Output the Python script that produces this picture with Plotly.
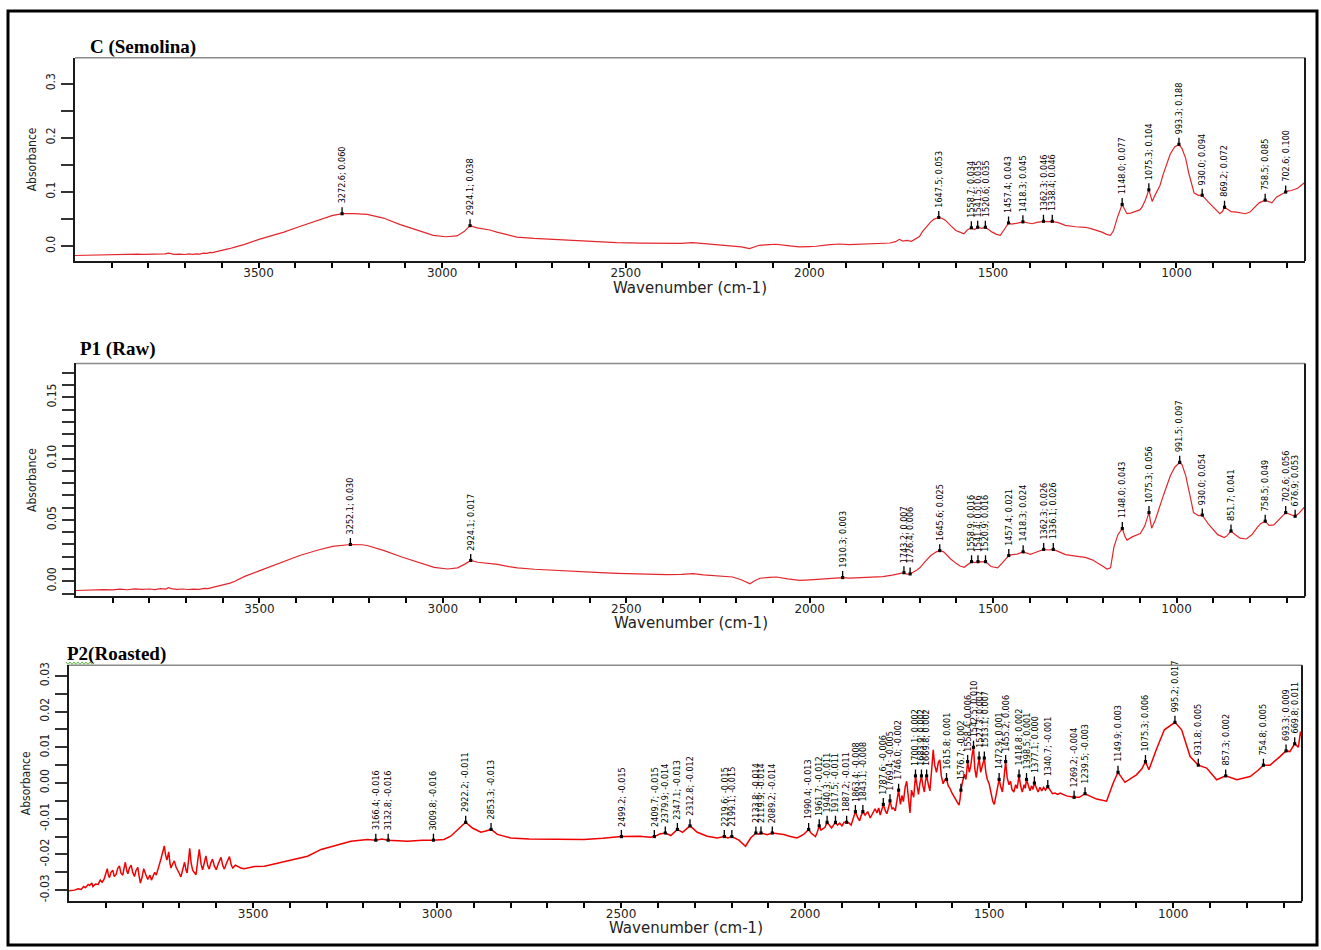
import plotly.graph_objects as go

W, H = 1321, 950

NARROW = "Liberation Sans Narrow, Arial Narrow, DejaVu Sans Condensed, sans-serif"
WIDE = "DejaVu Sans, Verdana, sans-serif"
SERIF = "Liberation Serif, Times New Roman, serif"

# ---------------- C (Semolina) ----------------
c_wn = [4000, 3975, 3950, 3925, 3900, 3880, 3860, 3845, 3830, 3815, 3800, 3785, 3770, 3755,
        3745, 3738, 3730, 3715, 3700, 3690, 3680, 3670, 3660, 3650, 3640, 3632, 3625, 3615,
        3605, 3595, 3580, 3567, 3540, 3499, 3460, 3431, 3390, 3340, 3300, 3240, 3204, 3160,
        3114, 3070, 3024, 2990, 2960, 2940, 2905, 2888, 2870, 2851, 2820, 2797, 2750, 2707,
        2660, 2617, 2570, 2525, 2460, 2390, 2350, 2318, 2290, 2254, 2210, 2185, 2163, 2150,
        2136, 2110, 2091, 2060, 2027, 2000, 1982, 1950, 1919, 1891, 1850, 1801, 1780, 1765,
        1755, 1745, 1734, 1722, 1710, 1700, 1693, 1680, 1670, 1660, 1640, 1629, 1615, 1601,
        1590, 1579, 1570, 1550, 1530, 1510, 1502, 1490, 1480, 1470, 1450, 1439, 1430, 1405,
        1393, 1380, 1350, 1320, 1303, 1275, 1260, 1249, 1235, 1225, 1203, 1190, 1180, 1172,
        1160, 1140, 1135, 1125, 1113, 1100, 1094, 1085, 1066, 1060, 1054, 1045, 1036, 1025,
        1017, 1005, 985, 975, 967, 960, 952, 940, 913, 895, 882, 875, 860, 852, 836, 813, 800,
        791, 775, 750, 740, 728, 715, 695, 687, 670, 660, 650]
c_ab = [-0.0170, -0.0165, -0.0160, -0.0158, -0.0150, -0.0155, -0.0148, -0.0152, -0.0146, -0.0150,
        -0.0147, -0.0153, -0.0149, -0.0140, -0.0128, -0.0137, -0.0150, -0.0146, -0.0152, -0.0142,
        -0.0150, -0.0140, -0.0146, -0.0128, -0.0132, -0.0112, -0.0118, -0.0098, -0.0085, -0.0068,
        -0.0045, -0.0020, 0.0030, 0.0128, 0.0200, 0.0260, 0.0360, 0.0480, 0.0565, 0.0602, 0.0587,
        0.0520, 0.0400, 0.0300, 0.0200, 0.0175, 0.0190, 0.0270, 0.0340, 0.0320, 0.0300, 0.0260,
        0.0210, 0.0170, 0.0145, 0.0130, 0.0110, 0.0097, 0.0082, 0.0066, 0.0057, 0.0048, 0.0052,
        0.0066, 0.0050, 0.0030, 0.0018, -0.0010, -0.0044, -0.0010, 0.0018, 0.0030, 0.0037,
        0.0012, -0.0013, -0.0005, 0.0000, 0.0025, 0.0042, 0.0030, 0.0038, 0.0048, 0.0060, 0.0085,
        0.0128, 0.0095, 0.0110, 0.0090, 0.0140, 0.0180, 0.0260, 0.0360, 0.0446, 0.0500, 0.0520,
        0.0477, 0.0380, 0.0290, 0.0260, 0.0230, 0.0300, 0.0310, 0.0330, 0.0300, 0.0260, 0.0220,
        0.0200, 0.0300, 0.0410, 0.0415, 0.0430, 0.0430, 0.0415, 0.0440, 0.0455, 0.0430, 0.0386,
        0.0360, 0.0355, 0.0350, 0.0330, 0.0310, 0.0260, 0.0220, 0.0200, 0.0280, 0.0550, 0.0680,
        0.0600, 0.0610, 0.0640, 0.0670, 0.0720, 0.0850, 0.0826, 0.0920, 0.1000, 0.1120, 0.1330,
        0.1550, 0.1700, 0.1830, 0.1800, 0.1620, 0.1360, 0.1180, 0.0980, 0.0940, 0.0813, 0.0700,
        0.0600, 0.0640, 0.0680, 0.0640, 0.0630, 0.0600, 0.0630, 0.0690, 0.0800, 0.0820, 0.0800,
        0.0905, 0.0960, 0.1020, 0.1028, 0.1070, 0.1130, 0.1180]
c_peak_wn = [3272.6, 2924.1, 1647.5, 1558.7, 1541.5, 1520.6, 1457.4, 1418.3, 1362.3, 1338.4,
             1148.0, 1075.3, 993.3, 930.0, 869.2, 758.5, 702.6]
c_peak_ab = [0.060, 0.038, 0.053, 0.034, 0.035, 0.035, 0.043, 0.045, 0.046, 0.046,
             0.077, 0.104, 0.188, 0.094, 0.072, 0.085, 0.100]

# ---------------- P1 (Raw) ----------------
p1_wn = [4000, 3975, 3950, 3925, 3900, 3880, 3860, 3840, 3820, 3800, 3785, 3770, 3755, 3748,
         3740, 3725, 3710, 3695, 3680, 3665, 3650, 3640, 3630, 3621, 3610, 3595, 3580, 3567,
         3540, 3499, 3460, 3431, 3390, 3340, 3300, 3220, 3204, 3160, 3114, 3070, 3024, 2987,
         2960, 2940, 2905, 2888, 2870, 2851, 2820, 2797, 2750, 2707, 2660, 2617, 2570, 2525,
         2460, 2390, 2350, 2318, 2290, 2254, 2210, 2185, 2163, 2150, 2136, 2110, 2091, 2060,
         2027, 2000, 1982, 1950, 1925, 1891, 1850, 1801, 1775, 1760, 1735, 1710, 1700, 1683,
         1670, 1655, 1635, 1629, 1615, 1601, 1590, 1579, 1570, 1550, 1530, 1506, 1488, 1475,
         1447, 1435, 1398, 1385, 1350, 1320, 1303, 1275, 1249, 1230, 1212, 1200, 1190, 1180,
         1171, 1160, 1140, 1135, 1121, 1099, 1087, 1068, 1058, 1050, 1036, 1017, 1005, 985,
         975, 967, 960, 954, 940, 913, 888, 870, 863, 840, 827, 810, 795, 780, 771, 748, 735,
         717, 690, 668, 660, 650]
p1_ab = [-0.0075, -0.0072, -0.0074, -0.0068, -0.0070, -0.0064, -0.0069, -0.0062, -0.0066, -0.0063,
         -0.0068, -0.0060, -0.0064, -0.0052, -0.0060, -0.0066, -0.0063, -0.0067, -0.0064, -0.0066,
         -0.0058, -0.0060, -0.0052, -0.0046, -0.0040, -0.0028, -0.0015, 0.0000, 0.0040, 0.0087,
         0.0130, 0.0168, 0.0210, 0.0255, 0.0285, 0.0298, 0.0290, 0.0250, 0.0200, 0.0155, 0.0114,
         0.0100, 0.0110, 0.0140, 0.0155, 0.0150, 0.0148, 0.0138, 0.0120, 0.0110, 0.0098, 0.0090,
         0.0082, 0.0076, 0.0070, 0.0064, 0.0058, 0.0054, 0.0056, 0.0062, 0.0053, 0.0043, 0.0035,
         0.0010, -0.0020, 0.0005, 0.0025, 0.0032, 0.0035, 0.0020, 0.0008, 0.0012, 0.0015, 0.0022,
         0.0026, 0.0025, 0.0032, 0.0038, 0.0050, 0.0058, 0.0058, 0.0087, 0.0110, 0.0168, 0.0210,
         0.0240, 0.0240, 0.0220, 0.0180, 0.0146, 0.0125, 0.0114, 0.0135, 0.0152, 0.0158, 0.0120,
         0.0109, 0.0150, 0.0217, 0.0222, 0.0220, 0.0235, 0.0255, 0.0240, 0.0217, 0.0205, 0.0195,
         0.0175, 0.0146, 0.0120, 0.0100, 0.0110, 0.0276, 0.0380, 0.0360, 0.0336, 0.0362, 0.0390,
         0.0450, 0.0433, 0.0500, 0.0580, 0.0700, 0.0860, 0.0930, 0.0950, 0.0860, 0.0760, 0.0650,
         0.0560, 0.0535, 0.0465, 0.0380, 0.0357, 0.0370, 0.0380, 0.0352, 0.0345, 0.0379, 0.0440,
         0.0470, 0.0455, 0.0460, 0.0520, 0.0545, 0.0550, 0.0580, 0.0610]
p1_peak_wn = [3252.1, 2924.1, 1910.3, 1743.2, 1726.4, 1645.6, 1558.9, 1541.4, 1520.9, 1457.4,
              1418.3, 1362.3, 1336.1, 1148.0, 1075.3, 991.5, 930.0, 851.7, 758.5, 702.6, 676.9]
p1_peak_ab = [0.030, 0.017, 0.003, 0.007, 0.006, 0.025, 0.016, 0.016, 0.016, 0.021,
              0.024, 0.026, 0.026, 0.043, 0.056, 0.097, 0.054, 0.041, 0.049, 0.056, 0.053]

# ---------------- P2 (Roasted) ----------------
p2_wn = [4000, 3985, 3975, 3967, 3960, 3955, 3948, 3944, 3938, 3935, 3928, 3921, 3915, 3910,
         3905, 3900, 3896, 3893, 3890, 3886, 3881, 3877, 3872, 3868, 3863, 3859, 3854, 3850,
         3847, 3843, 3840, 3836, 3831, 3827, 3822, 3818, 3813, 3810, 3806, 3801, 3797, 3792,
         3786, 3780, 3776, 3772, 3767, 3763, 3759, 3755, 3750, 3745, 3741, 3738, 3734, 3731,
         3729, 3726, 3723, 3718, 3714, 3709, 3704, 3700, 3696, 3691, 3686, 3682, 3679, 3675,
         3672, 3668, 3664, 3660, 3655, 3650, 3646, 3641, 3637, 3632, 3628, 3623, 3619, 3615,
         3610, 3605, 3600, 3594, 3587, 3582, 3578, 3571, 3564, 3559, 3555, 3548, 3542, 3533,
         3524, 3496, 3469, 3433, 3388, 3352, 3315, 3279, 3234, 3189, 3150, 3080, 3040, 2981,
         2963, 2944, 2904, 2881, 2870, 2836, 2800, 2750, 2691, 2601, 2550, 2450, 2420, 2395,
         2365, 2333, 2293, 2266, 2239, 2210, 2180, 2162, 2148, 2126, 2103, 2058, 2040, 2022,
         2004, 1984, 1978, 1972, 1967, 1957, 1952, 1946, 1934, 1928, 1923, 1912, 1906, 1900,
         1894, 1881, 1875, 1869, 1858, 1852, 1848, 1837, 1830, 1823, 1816, 1810, 1805, 1800,
         1796, 1792, 1782, 1778, 1773, 1764, 1760, 1755, 1750, 1741, 1737, 1733, 1728, 1724,
         1720, 1715, 1711, 1705, 1696, 1692, 1688, 1680, 1676, 1673, 1665, 1661, 1656, 1652,
         1648, 1643, 1638, 1634, 1630, 1625, 1620, 1611, 1607, 1600, 1594, 1588, 1582, 1579,
         1572, 1567, 1563, 1554, 1550, 1546, 1539, 1535, 1531, 1523, 1520, 1516, 1509, 1505,
         1500, 1495, 1490, 1486, 1481, 1477, 1468, 1464, 1460, 1451, 1446, 1442, 1438, 1433,
         1428, 1424, 1414, 1410, 1405, 1402, 1393, 1389, 1385, 1381, 1372, 1367, 1362, 1357,
         1352, 1347, 1335, 1328, 1321, 1314, 1307, 1290, 1255, 1208, 1181, 1163, 1131, 1100,
         1085, 1066, 1046, 1024, 977, 954, 909, 882, 827, 791, 770, 737, 710, 683, 660, 654, 650]
p2_ab = [-0.0302, -0.0300, -0.0296, -0.0298, -0.0290, -0.0293, -0.0284, -0.0287, -0.0280, -0.0290,
         -0.0283, -0.0284, -0.0272, -0.0278, -0.0270, -0.0252, -0.0240, -0.0258, -0.0265, -0.0250,
         -0.0244, -0.0262, -0.0256, -0.0240, -0.0232, -0.0252, -0.0258, -0.0236, -0.0222, -0.0246,
         -0.0254, -0.0238, -0.0230, -0.0250, -0.0262, -0.0245, -0.0236, -0.0258, -0.0280, -0.0262,
         -0.0240, -0.0255, -0.0270, -0.0258, -0.0272, -0.0262, -0.0250, -0.0258, -0.0240, -0.0230,
         -0.0212, -0.0195, -0.0176, -0.0200, -0.0216, -0.0202, -0.0193, -0.0222, -0.0238, -0.0226,
         -0.0218, -0.0236, -0.0244, -0.0254, -0.0263, -0.0240, -0.0222, -0.0244, -0.0252, -0.0215,
         -0.0183, -0.0225, -0.0244, -0.0250, -0.0257, -0.0215, -0.0186, -0.0228, -0.0243, -0.0222,
         -0.0204, -0.0232, -0.0241, -0.0225, -0.0213, -0.0233, -0.0243, -0.0225, -0.0208, -0.0232,
         -0.0241, -0.0222, -0.0206, -0.0230, -0.0238, -0.0230, -0.0234, -0.0238, -0.0240, -0.0234,
         -0.0233, -0.0225, -0.0214, -0.0205, -0.0186, -0.0175, -0.0163, -0.0158, -0.0157, -0.0163,
         -0.0160, -0.0158, -0.0149, -0.0130, -0.0126, -0.0138, -0.0135, -0.0144, -0.0154, -0.0157,
         -0.0158, -0.0158, -0.0155, -0.0149, -0.0152, -0.0143, -0.0147, -0.0138, -0.0138, -0.0149,
         -0.0154, -0.0154, -0.0160, -0.0177, -0.0154, -0.0143, -0.0145, -0.0144, -0.0150, -0.0154,
         -0.0144, -0.0140, -0.0145, -0.0150, -0.0138, -0.0132, -0.0128, -0.0124, -0.0120, -0.0126,
         -0.0118, -0.0118, -0.0112, -0.0120, -0.0110, -0.0112, -0.0118, -0.0100, -0.0095, -0.0106,
         -0.0092, -0.0090, -0.0080, -0.0098, -0.0085, -0.0072, -0.0084, -0.0070, -0.0090, -0.0074,
         -0.0078, -0.0086, -0.0068, -0.0072, -0.0070, -0.0078, -0.0040, -0.0060, -0.0035, -0.0052,
         -0.0010, 0.0005, -0.0045, -0.0084, -0.0020, -0.0040, -0.0015, -0.0032, 0.0000, -0.0008,
         -0.0025, 0.0005, -0.0005, -0.0022, 0.0040, 0.0093, 0.0050, 0.0030, 0.0058, 0.0065,
         0.0020, -0.0002, 0.0010, -0.0008, -0.0014, -0.0030, -0.0040, -0.0052, -0.0062, -0.0045,
         0.0005, 0.0025, 0.0010, 0.0030, 0.0048, 0.0080, 0.0040, 0.0015, 0.0045, 0.0030, 0.0042,
         0.0055, 0.0030, 0.0010, -0.0002, -0.0030, -0.0052, -0.0060, -0.0030, -0.0005, -0.0012,
         -0.0025, 0.0010, 0.0015, -0.0005, 0.0005, -0.0018, -0.0025, -0.0005, -0.0015, -0.0010,
         -0.0025, -0.0005, -0.0015, -0.0012, -0.0022, -0.0008, -0.0018, -0.0015, -0.0025, -0.0012,
         -0.0022, -0.0012, -0.0020, -0.0020, -0.0030, -0.0028, -0.0032, -0.0028, -0.0036, -0.0040,
         -0.0045, -0.0051, 0.0000, 0.0002, 0.0023, 0.0040, 0.0037, 0.0093, 0.0149, 0.0149, 0.0074,
         0.0042, 0.0009, 0.0009, 0.0018, 0.0035, 0.0050, 0.0074, 0.0088, 0.0100, 0.0144, 0.0130]
p2_peak_wn = [3166.4, 3132.8, 3009.8, 2922.2, 2853.3, 2499.2, 2409.7, 2379.9, 2347.1, 2312.8,
              2219.6, 2199.1, 2133.8, 2119.9, 2089.2, 1990.4, 1961.7, 1940.3, 1917.5, 1887.2,
              1863.4, 1843.1, 1787.6, 1769.4, 1746.0, 1700.1, 1683.9, 1669.8, 1615.8, 1576.7,
              1558.4, 1542.5, 1527.3, 1513.1, 1472.9, 1455.2, 1418.8, 1398.5, 1377.1, 1340.7,
              1269.2, 1239.5, 1149.9, 1075.3, 995.2, 931.8, 857.3, 754.8, 693.3, 669.8]
p2_peak_ab = [-0.016, -0.016, -0.016, -0.011, -0.013, -0.015, -0.015, -0.014, -0.013, -0.012,
              -0.015, -0.015, -0.014, -0.014, -0.014, -0.013, -0.012, -0.011, -0.011, -0.011,
              -0.008, -0.008, -0.006, -0.005, -0.002, 0.002, 0.002, 0.002, 0.001, -0.002,
              0.006, 0.010, 0.007, 0.007, 0.001, 0.006, 0.002, 0.001, 0.000, -0.001,
              -0.004, -0.003, 0.003, 0.006, 0.017, 0.005, 0.002, 0.005, 0.009, 0.011]

# tick settings
x_major = [3500, 3000, 2500, 2000, 1500, 1000]
x_minor = [v for v in range(3900, 650, -100) if v not in x_major]

panels = [
    dict(name="C (Semolina)", wn=c_wn, ab=c_ab, pk_wn=c_peak_wn, pk_ab=c_peak_ab,
         box=(75, 1305, 55, 259), yrange=[-0.027, 0.3475],
         ymajor=[0.0, 0.1, 0.2, 0.3], ylabels=["0.0", "0.1", "0.2", "0.3"], ystep=0.05,
         title_xy=(88, 44), ylab_x=32, color="#e3262b", width=1.2),
    dict(name="P1 (Raw)", wn=p1_wn, ab=p1_ab, pk_wn=p1_peak_wn, pk_ab=p1_peak_ab,
         box=(76, 1305, 362, 596), yrange=[-0.0124, 0.1776],
         ymajor=[0.0, 0.05, 0.10, 0.15], ylabels=["0.00", "0.05", "0.10", "0.15"], ystep=0.01,
         title_xy=(78, 347), ylab_x=32, color="#e3262b", width=1.2),
    dict(name="P2(Roasted)", wn=p2_wn, ab=p2_ab, pk_wn=p2_peak_wn, pk_ab=p2_peak_ab,
         box=(69, 1302, 665, 902), yrange=[-0.0331, 0.033],
         ymajor=[-0.03, -0.02, -0.01, 0.0, 0.01, 0.02, 0.03],
         ylabels=["-0.03", "-0.02", "-0.01", "0.00", "0.01", "0.02", "0.03"], ystep=0.005,
         title_xy=(65, 654), ylab_x=26, color="#f00000", width=1.5),
]


def px(x):
    return x / W


def py(y):
    return 1 - y / H


fig = go.Figure()
annotations = []
shapes = []
layout = {}

for i, p in enumerate(panels, start=1):
    sfx = "" if i == 1 else str(i)
    xa, ya = "x" + sfx, "y" + sfx
    x0, x1, y0, y1 = p["box"]

    # spectrum: read points merged with the labelled peak points
    pts = sorted(zip(p["wn"] + p["pk_wn"], p["ab"] + p["pk_ab"]), key=lambda t: -t[0])
    fig.add_trace(go.Scatter(
        x=[t[0] for t in pts], y=[t[1] for t in pts], mode="lines",
        line=dict(color=p["color"], width=p["width"]),
        xaxis=xa, yaxis=ya, hoverinfo="skip", showlegend=False))

    lo, hi = p["yrange"]
    n0 = int(round(lo / p["ystep"])) - 1
    n1 = int(round(hi / p["ystep"])) + 1
    yminor = [round(k * p["ystep"], 4) for k in range(n0, n1 + 1)
              if lo <= k * p["ystep"] <= hi]

    layout["xaxis" + sfx] = dict(
        domain=[px(x0), px(x1)], range=[4000, 650], anchor=ya,
        tickvals=x_major, ticktext=[str(v) for v in x_major],
        ticks="outside", ticklen=5, tickwidth=1.5, tickcolor="black",
        minor=dict(tickvals=x_minor, ticks="outside", ticklen=5, tickwidth=1.5,
                   tickcolor="black", showgrid=False),
        tickfont=dict(family=WIDE, size=12, color="#222"),
        ticklabelstandoff=-5,
        showline=True, linecolor="#1a1a1a", linewidth=2,
        showgrid=False, zeroline=False, fixedrange=True)
    layout["yaxis" + sfx] = dict(
        domain=[py(y1), py(y0)], range=p["yrange"], anchor=xa,
        tickvals=p["ymajor"], ticktext=p["ylabels"], tickangle=-90,
        ticks="outside", ticklen=12, tickwidth=1.5, tickcolor="#333",
        minor=dict(tickvals=yminor, ticks="outside", ticklen=12, tickwidth=1.5,
                   tickcolor="#333", showgrid=False),
        tickfont=dict(family=NARROW, size=12, color="#222"),
        ticklabelstandoff=1,
        showline=True, linecolor="#1a1a1a", linewidth=2,
        showgrid=False, zeroline=False, fixedrange=True)

    # top edge (grey) and right edge (dark) of the plot frame
    shapes.append(dict(type="line", xref=xa + " domain", yref=ya + " domain",
                       x0=0, x1=1, y0=1, y1=1, line=dict(color="#8a8a8a", width=1.5)))
    shapes.append(dict(type="line", xref=xa + " domain", yref=ya + " domain",
                       x0=1, x1=1, y0=0, y1=1, line=dict(color="#1a1a1a", width=2)))

    # panel title
    tx, ty = p["title_xy"]
    annotations.append(dict(text="<b>%s</b>" % p["name"], xref="paper", yref="paper",
                            x=px(tx), y=py(ty), xanchor="left", yanchor="middle",
                            showarrow=False, font=dict(family=SERIF, size=19, color="black")))
    # axis titles
    annotations.append(dict(text="Absorbance", xref="paper", yref="paper",
                            x=px(p["ylab_x"]), y=py((y0 + y1) / 2), textangle=-90,
                            xanchor="center", yanchor="middle", showarrow=False,
                            font=dict(family=NARROW, size=12, color="#222")))
    annotations.append(dict(text="Wavenumber (cm-1)", xref="paper", yref="paper",
                            x=px((x0 + x1) / 2), y=py(y1 + 27), xanchor="center",
                            yanchor="middle", showarrow=False,
                            font=dict(family=WIDE, size=15, color="#222")))

    # peak picks: a short stem with a foot on the curve, label stacked above it
    for w, a in zip(p["pk_wn"], p["pk_ab"]):
        annotations.append(dict(
            x=w, y=a, xref=xa, yref=ya, text="", showarrow=True,
            arrowhead=7, arrowsize=0.6, arrowwidth=1.3, arrowcolor="black",
            ax=0, ay=-8, font=dict(size=1)))
        annotations.append(dict(
            x=w, y=a, xref=xa, yref=ya, text="%.1f; %.3f" % (w, a), textangle=-90,
            showarrow=False, xanchor="center", yanchor="bottom", yshift=8,
            font=dict(family=NARROW, size=9, color="black")))

# outer frame
shapes.append(dict(type="rect", xref="paper", yref="paper",
                   x0=px(8), x1=px(1317), y0=py(946), y1=py(8),
                   line=dict(color="black", width=3)))

# spell-check squiggle under the "P2" title
zig = []
for k, xx in enumerate(range(66, 94, 2)):
    yy = 663 + (1.2 if k % 2 else -1.2)
    zig.append(("M" if k == 0 else "L") + " %.5f %.5f" % (px(xx), py(yy)))
shapes.append(dict(type="path", xref="paper", yref="paper", path=" ".join(zig),
                   line=dict(color="#5fae3e", width=1)))

fig.update_layout(
    width=W, height=H, margin=dict(l=0, r=0, t=0, b=0),
    paper_bgcolor="white", plot_bgcolor="white", showlegend=False,
    annotations=annotations, shapes=shapes, **layout)

fig.write_html("out.html")
